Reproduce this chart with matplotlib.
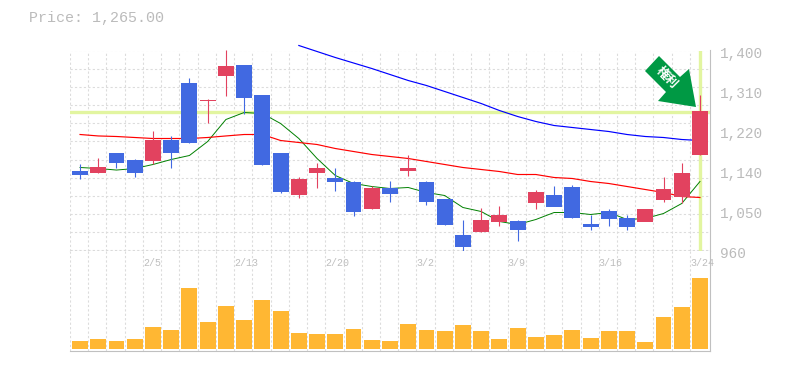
import matplotlib
matplotlib.use('Agg')
import matplotlib.pyplot as plt
from matplotlib.patches import Polygon

plt.rcParams['font.family'] = ['Liberation Mono', 'DejaVu Sans']

opens = [1134, 1129.4, 1175.6, 1160.2, 1155.8, 1204.2, 1327.4, 1287.8, 1342.8, 1367, 1301, 1173.4,
         1081, 1129.4, 1120.6, 1111.8, 1050.2, 1098.6, 1133.8, 1111.8, 1072.2, 993, 999.6, 1023.8,
         1023.8, 1063.4, 1081, 1100.8, 1017.2, 1045.8, 1030.4, 1023.8, 1070, 1078.8, 1169]
closes = [1127, 1144.8, 1151.4, 1131.6, 1202, 1175.6, 1197.6, 1290, 1364.8, 1294.4, 1147, 1089.8,
          1116.2, 1140.4, 1111.8, 1045.8, 1098.6, 1083.2, 1140.4, 1067.8, 1015, 968.8, 1026, 1037,
          1004, 1089.8, 1056.8, 1030.4, 1012.8, 1028.2, 1012.8, 1050.2, 1094.2, 1129.4, 1265.8]
highs = [1151, 1164.6, 1175.6, 1160.2, 1221.8, 1210.8, 1340.6, 1292.2, 1400, 1367, 1301, 1175.6,
         1120.6, 1153.6, 1142.6, 1111.8, 1100.8, 1111.8, 1169, 1111.8, 1072.2, 1026, 1052.4, 1056.8,
         1026, 1092, 1100.8, 1103, 1037, 1050.2, 1037, 1050.2, 1120.6, 1153.6, 1301]
lows = [1118, 1129.4, 1142.6, 1120.6, 1149.2, 1140.4, 1197.6, 1239.4, 1298.8, 1259.2, 1147, 1085.4,
        1074.4, 1096.4, 1089.8, 1034.8, 1050.2, 1065.6, 1122.8, 1059, 1015, 957.8, 999.6, 1012.8,
        979.8, 1050.2, 1056.8, 1030.4, 1004, 1012.8, 1004, 1023.8, 1065.6, 1063.4, 1169]

ma_short = [1142.6, 1140.4, 1137, 1140.4, 1149.2, 1160.2, 1169, 1199.8, 1248.2, 1263.6, 1261.4, 1239.4,
            1206.4, 1162.4, 1125, 1107.4, 1100.8, 1096.4, 1098.6, 1087.6, 1081, 1054.6, 1045.8, 1023.8,
            1017.2, 1028.2, 1043.6, 1043.6, 1039.2, 1043.6, 1028.2, 1030.4, 1041.4, 1063.4, 1111.8]
ma_mid = [1215.2, 1212, 1210.8, 1208.6, 1206.4, 1206.4, 1206.4, 1208.6, 1212, 1215.2, 1215.2, 1202,
          1197.6, 1193.2, 1184.4, 1177.8, 1171.2, 1166.8, 1162.4, 1155.8, 1149.2, 1142.6, 1138.2, 1133.8,
          1127.2, 1127.2, 1120.6, 1118.4, 1111.8, 1107.4, 1100.8, 1094.2, 1087.6, 1078.8, 1076.6]
# long average only starts at candle 12
ma_long = [1411, 1397.8, 1384.6, 1372.5, 1360.4, 1347.2, 1334, 1323, 1309.8, 1296.6, 1283.4, 1268,
           1254.8, 1243.8, 1235, 1230.6, 1226.2, 1221.8, 1215.2, 1210.8, 1208.6, 1204.2, 1202]

volumes = [24, 30, 24, 30, 66, 57, 183, 81, 129, 87, 147, 114, 48, 45, 45, 60, 27, 24,
           75, 57, 54, 72, 54, 30, 63, 36, 42, 57, 33, 54, 54, 21, 96, 126, 213]

price_labels = ['1,400', '1,310', '1,220', '1,140', '1,050', '960']
price_label_pos = [1400, 1312, 1224, 1136, 1048, 960]
date_labels = {4: '2/5', 9: '2/13', 14: '2/20', 19: '3/2', 24: '3/9', 29: '3/16', 34: '3/24'}
current_price = 1265

UP = '#E2425F'
DOWN = '#4169E1'
GRID = '#DCDCDC'
AXIS = '#C0C0C0'
HILITE = '#E2F5A0'
W, H = 785, 370

fig = plt.figure(figsize=(W / 100, H / 100), dpi=100)
ax = fig.add_axes([70 / W, 1 - 250.5 / H, 640 / W, 200 / H])
vol = fig.add_axes([70 / W, 1 - 350.5 / H, 640 / W, 100 / H])
n = len(opens)

for a in (ax, vol):
    # candles sit a touch right of the middle of their slot
    a.set_xlim(-0.55, n - 0.45)
    a.set_xticks([i - 0.55 for i in range(n)])
    a.tick_params(length=0, labelbottom=False, labelleft=False)
    a.grid(axis='x', color=GRID, linestyle=(0, (2, 2)), linewidth=0.8)
    a.set_axisbelow(True)
    a.spines['left'].set_visible(False)
    a.spines['top'].set_visible(False)
    a.spines['right'].set_color(AXIS)
    a.spines['bottom'].set_color(AXIS)

ax.set_ylim(960, 1400)
ax.set_yticks(range(960, 1401, 40))
ax.grid(axis='y', color=GRID, linestyle=(0, (2, 2)), linewidth=0.8)

# the marker lines for last price / last day
ax.axhline(current_price, color=HILITE, linewidth=2.4, zorder=1.5)
ax.axvline(n - 1, color=HILITE, linewidth=2.4, zorder=1.5)

xs = list(range(n))
ax.plot(xs, ma_short, color='#008000', linewidth=0.7, zorder=2)
ax.plot(xs, ma_mid, color='#FF0000', linewidth=0.85, zorder=2)
ax.plot(xs[12:], ma_long, color='#0000FF', linewidth=0.85, zorder=2, clip_on=False)

for i in range(n):
    c = UP if closes[i] >= opens[i] else DOWN
    ax.plot([i, i], [lows[i], highs[i]], color=c, linewidth=0.8, zorder=3, solid_capstyle='butt', clip_on=False)
    bottom = min(opens[i], closes[i])
    ax.bar(i, abs(closes[i] - opens[i]), bottom=bottom, width=0.87, color=c, zorder=3)

vol.set_ylim(-6, 294)
vol.set_yticks([])
vol.bar(xs, volumes, width=0.87, color='#FFB733', zorder=2)

# volume panel has the date labels at the top
for i, lab in date_labels.items():
    vol.annotate(lab, xy=(i - 0.55, 1), xycoords=vol.get_xaxis_transform(), xytext=(0, -12),
                 textcoords='offset pixels', fontsize=7.2, color='#BEBEBE', ha='left', va='center',
                 annotation_clip=False)

for pos, lab in zip(price_label_pos, price_labels):
    ax.annotate(lab, xy=(1, pos), xycoords=ax.get_yaxis_transform(), xytext=(10, -3.5),
                textcoords='offset pixels', fontsize=10.4, color='#BBBBBB', ha='left', va='center',
                annotation_clip=False)

fig.text(29 / W, 1 - 18 / H, 'Price: 1,265.00', fontsize=10.8, color='#BBBBBB', ha='left', va='center')

# arrow badge, drawn in figure pixels
arrow_px = [(645, 71), (659, 56), (680, 77), (689, 69), (696, 107), (658, 101), (666, 92)]
fig.add_artist(Polygon([(x / W, 1 - y / H) for x, y in arrow_px], closed=True, transform=fig.transFigure,
                       facecolor='#009944', edgecolor='none', zorder=5))
fig.text(666.5 / W, 1 - 78 / H, '権利', family=['Noto Sans CJK JP', 'DejaVu Sans'], fontsize=9, fontweight='bold',
         color='white', rotation=-45, ha='center', va='center', zorder=6)

fig.savefig('out.png', dpi=100)
